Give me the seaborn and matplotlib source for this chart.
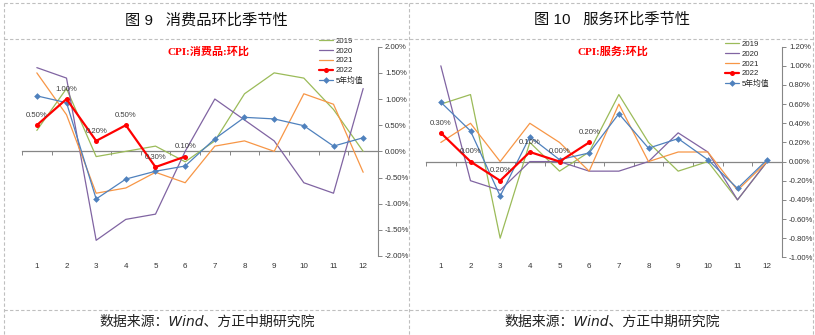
import numpy as np
import pandas as pd
import seaborn as sns
import matplotlib
matplotlib.use("Agg")
import matplotlib.pyplot as plt
from matplotlib.lines import Line2D
from matplotlib.ticker import FixedLocator, FuncFormatter

# ---- data (month-on-month change, %) ----
months = list(range(1, 13))
series_names = ["2019", "2020", "2021", "2022", "5年均值"]

goods_2019 = [0.4, 1.2, -0.1, 0.0, 0.1, -0.2, 0.2, 1.1, 1.5, 1.4, 0.8, 0.0]
goods_2020 = [1.6, 1.4, -1.7, -1.3, -1.2, 0.0, 1.0, 0.6, 0.2, -0.6, -0.8, 1.2]
goods_2021 = [1.5, 0.7, -0.8, -0.7, -0.4, -0.6, 0.1, 0.2, 0.0, 1.1, 0.9, -0.4]
goods_2022 = [0.5, 1.0, 0.2, 0.5, -0.3, -0.1]
goods_avg = [1.06, 0.93, -0.91, -0.53, -0.38, -0.28, 0.24, 0.65, 0.62, 0.49, 0.10, 0.26]

svc_2019 = [0.6, 0.7, -0.8, 0.2, -0.1, 0.1, 0.7, 0.2, -0.1, 0.0, -0.4, 0.0]
svc_2020 = [1.0, -0.2, -0.3, 0.0, 0.0, -0.1, -0.1, 0.0, 0.3, 0.1, -0.4, 0.0]
svc_2021 = [0.2, 0.4, 0.0, 0.4, 0.2, -0.1, 0.6, 0.0, 0.1, 0.1, -0.3, 0.0]
svc_2022 = [0.3, 0.0, -0.2, 0.1, 0.0, 0.2]
svc_avg = [0.62, 0.32, -0.36, 0.26, 0.02, 0.09, 0.50, 0.14, 0.24, 0.02, -0.28, 0.02]

goods_ticks = [2.0, 1.5, 1.0, 0.5, 0.0, -0.5, -1.0, -1.5, -2.0]
svc_ticks = [1.2, 1.0, 0.8, 0.6, 0.4, 0.2, 0.0, -0.2, -0.4, -0.6, -0.8, -1.0]

# ---- style ----
sns.set_theme(style="white")
plt.rcParams["font.family"] = ["Liberation Sans", "Noto Sans CJK SC"]
plt.rcParams["axes.unicode_minus"] = False

colors = {"2019": "#9BBB59", "2020": "#8064A2", "2021": "#F79646",
          "2022": "#FF0000", "5年均值": "#4F81BD"}
AXIS_GRAY = "#868686"

W, H = 815, 335
fig = plt.figure(figsize=(W / 100, H / 100), dpi=100)


def fx(px):
    return px / W


def fy(py):
    return 1 - py / H


def draw_panel(rect, data, ticks, ylim, caption, fig_title, legend_xy, cap_xy,
               title_xy, foot_xy, xlab_y):
    left, top, right, bottom = rect
    ax = fig.add_axes([fx(left), fy(bottom), fx(right) - fx(left), fy(top) - fy(bottom)])
    ax.set_facecolor("none")

    # lines
    for name in series_names:
        vals = data[name]
        df = pd.DataFrame({"month": months[:len(vals)], "value": vals})
        kw = dict(color=colors[name], linewidth=0.9, label=name, zorder=3)
        if name == "2022":
            kw.update(linewidth=1.6, marker="o", markersize=3.6,
                      markeredgewidth=0, zorder=5)
        elif name == "5年均值":
            kw.update(linewidth=0.9, marker="D", markersize=3.4,
                      markeredgewidth=0, zorder=4)
        sns.lineplot(data=df, x="month", y="value", ax=ax, **kw)

    # value labels on the 2022 series
    for m, v in zip(months, data["2022"]):
        ax.annotate(f"{abs(v):.2f}%", (m, v), xytext=(0, 7), textcoords="offset points",
                    ha="center", va="center", fontsize=5.6, color="#404040", zorder=6)

    ax.set_xlim(0.5, 12.5)
    ax.set_ylim(*ylim)
    ax.set_xlabel("")
    ax.set_ylabel("")

    # right-side value axis
    ax.yaxis.tick_right()
    ax.yaxis.set_major_locator(FixedLocator(ticks))
    ax.yaxis.set_major_formatter(FuncFormatter(lambda v, p: f"{v:.2f}%"))
    ax.tick_params(axis="y", which="major", direction="out", length=3, width=0.7,
                   color=AXIS_GRAY, labelsize=5.6, labelcolor="#333333", pad=2,
                   right=True, left=False)

    # category axis drawn on the zero line
    for s in ["left", "bottom"]:
        ax.spines[s].set_visible(False)
    ax.spines["right"].set_color(AXIS_GRAY)
    ax.spines["right"].set_linewidth(0.8)
    ax.spines["top"].set_position(("data", 0))
    ax.spines["top"].set_color(AXIS_GRAY)
    ax.spines["top"].set_linewidth(0.9)
    ax.spines["top"].set_zorder(2)
    ax.xaxis.set_ticks_position("top")
    ax.xaxis.set_major_locator(FixedLocator(np.arange(0.5, 13, 1.0)))
    ax.tick_params(axis="x", which="major", direction="in", length=3, width=0.7,
                   color=AXIS_GRAY, labeltop=False, labelbottom=False)
    for m in months:
        ax.text(m, xlab_y, str(m), transform=ax.get_xaxis_transform(),
                ha="center", va="center", fontsize=5.8, color="#333333")

    ax.legend(loc="upper left", bbox_to_anchor=(fx(legend_xy[0]), fy(legend_xy[1])),
              bbox_transform=fig.transFigure, frameon=False, fontsize=5.6,
              handlelength=1.75, handletextpad=0.35, labelspacing=0.3,
              borderpad=0, borderaxespad=0)

    fig.text(fx(cap_xy[0]), fy(cap_xy[1]), caption, color="#FF0000", fontsize=8,
             fontweight="bold", ha="left", va="center",
             family=["Liberation Serif", "Noto Sans CJK SC"])
    fig.text(fx(title_xy[0]), fy(title_xy[1]), fig_title, fontsize=11,
             ha="center", va="center", color="#111111",
             family=["Liberation Sans", "Noto Sans CJK SC"])
    fig.text(fx(foot_xy[0]), fy(foot_xy[1]), "数据来源：Wind、方正中期研究院",
             fontsize=10, ha="center", va="center", style="italic", color="#222222",
             family=["DejaVu Sans", "Noto Sans CJK SC"])
    return ax


goods = {"2019": goods_2019, "2020": goods_2020, "2021": goods_2021,
         "2022": goods_2022, "5年均值": goods_avg}
svc = {"2019": svc_2019, "2020": svc_2020, "2021": svc_2021,
       "2022": svc_2022, "5年均值": svc_avg}

draw_panel((22, 46.7, 378, 256.0), goods, goods_ticks, (-2.0, 2.0),
           "CPI:消费品:环比", "图 9   消费品环比季节性",
           legend_xy=(319, 37.5), cap_xy=(167, 51.5), title_xy=(206, 20),
           foot_xy=(207, 322), xlab_y=-0.048)
draw_panel((426, 46.7, 782, 257.3), svc, svc_ticks, (-1.0, 1.2),
           "CPI:服务:环比", "图 10   服务环比季节性",
           legend_xy=(725, 40.5), cap_xy=(578, 51.5), title_xy=(612, 20),
           foot_xy=(612, 322), xlab_y=-0.045)

# dashed frame of the two-cell layout
frame = dict(color="#BFBFBF", linewidth=0.8, linestyle=(0, (3, 2)),
             transform=fig.transFigure)
for y in (3.3, 39.3, 309.5):
    fig.add_artist(Line2D([fx(4), fx(812.5)], [fy(y), fy(y)], **frame))
for x in (4, 408.5, 812.5):
    fig.add_artist(Line2D([fx(x), fx(x)], [fy(3.3), fy(335)], **frame))

fig.savefig("out.png", dpi=100)
